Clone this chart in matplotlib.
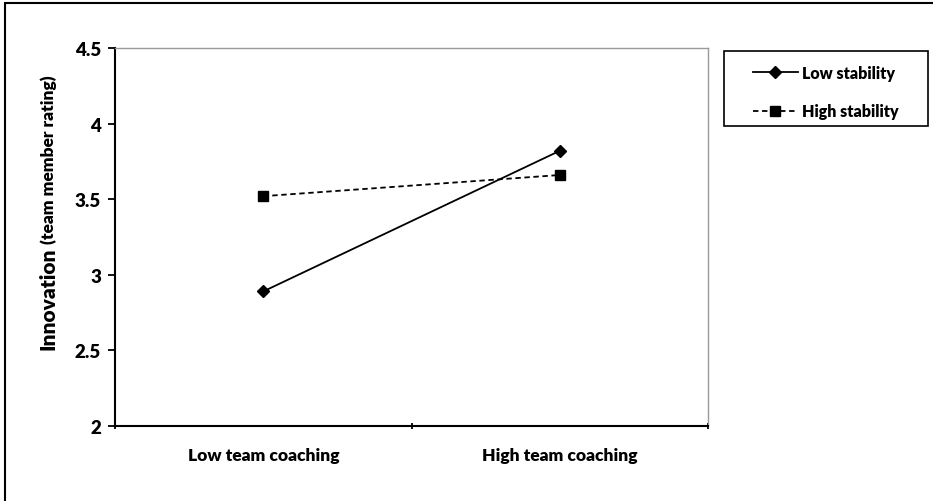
import matplotlib
matplotlib.use('Agg')
import matplotlib.pyplot as plt
from matplotlib.patches import Rectangle

categories = ['Low team coaching', 'High team coaching']
low_stability = [2.89, 3.82]
high_stability = [3.52, 3.66]
series_names = ['Low stability', 'High stability']
y_ticks = [2, 2.5, 3, 3.5, 4, 4.5]
y_tick_labels = ['2', '2.5', '3', '3.5', '4', '4.5']

plt.rcParams['font.family'] = ['Lato', 'DejaVu Sans']
WT = 'heavy'
plt.rcParams['font.weight'] = WT

W, H = 933, 502
fig = plt.figure(figsize=(W / 100, H / 100), dpi=100)
fig.patch.set_facecolor('white')

# outer frame (only top / left visible in the original crop)
fig.add_artist(Rectangle((4.5 / W, -0.02), 1.2, 1 - 3.5 / H + 0.02, transform=fig.transFigure,
                         fill=False, edgecolor='black', linewidth=1.5))

ax = fig.add_axes([115 / W, 1 - 427 / H, (708 - 115) / W, (427 - 49) / H])
x = [0.5, 1.5]
ax.plot(x, low_stability, color='black', lw=1.3, marker='D', ms=6.5, label=series_names[0])
ax.plot(x, high_stability, color='black', lw=1.3, ls=(0, (3, 2)), marker='s', ms=7.5,
        label=series_names[1])

ax.set_xlim(0, 2)
ax.set_ylim(2, 4.5)
ax.set_yticks(y_ticks)
ax.set_yticklabels(y_tick_labels, fontsize=13.5, fontweight=WT)
ax.set_xticks([0, 1, 2])
ax.set_xticklabels([])
ax.set_xticks(x, minor=True)
ax.set_xticklabels(categories, minor=True, fontsize=12.5, fontweight=WT)
ax.tick_params(axis='x', which='minor', length=0, pad=15)
ax.tick_params(axis='x', which='major', length=5, width=1.3, direction='inout')
ax.tick_params(axis='y', length=5, width=1.3, direction='out', pad=5)
for s in ['left', 'bottom']:
    ax.spines[s].set_linewidth(1.5)
for s in ['top', 'right']:
    ax.spines[s].set_color('#999999')
    ax.spines[s].set_linewidth(1.0)

# y label: large "Innovation" + small "(team member rating)"
t1 = fig.text(54 / W, 1 - 350 / H, 'Innovation', rotation=90, rotation_mode='anchor',
              ha='left', va='baseline', fontsize=15, fontweight=WT)
fig.canvas.draw()
bb = t1.get_window_extent()
fig.text(54 / W, (bb.y1 + 4) / H, '(team member rating)', rotation=90, rotation_mode='anchor',
         ha='left', va='baseline', fontsize=12.5, fontweight=WT)

# legend box drawn separately, entries centred in it
lx0, lx1, ly0, ly1 = 724, 928, 52, 127
fig.add_artist(Rectangle((lx0 / W, 1 - ly1 / H), (lx1 - lx0) / W, (ly1 - ly0) / H,
                         transform=fig.transFigure, fill=False, edgecolor='black', linewidth=1.2))
leg = fig.legend(loc='center', bbox_to_anchor=((lx0 + lx1) / 2 / W, 1 - 93 / H), frameon=False,
                 prop={'size': 11.5, 'weight': WT}, handlelength=2.8, labelspacing=1.4,
                 handletextpad=0.3, borderpad=0)

fig.savefig('out.png', dpi=100, facecolor='white')
